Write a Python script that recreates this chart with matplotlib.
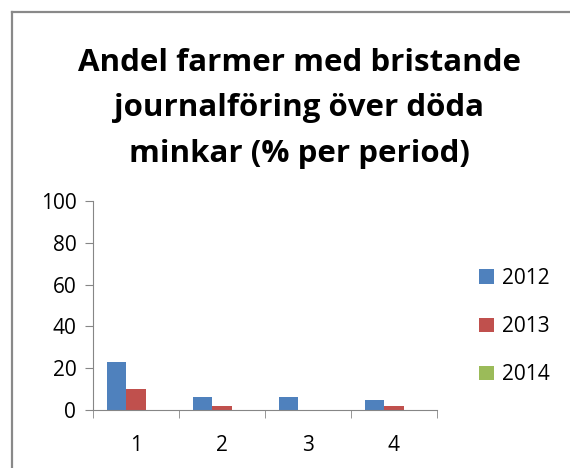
import matplotlib
matplotlib.use("Agg")
import matplotlib.pyplot as plt
from matplotlib.lines import Line2D
import numpy as np

categories = ["1", "2", "3", "4"]
series_names = ["2012", "2013", "2014"]
values_2012 = [23, 6, 6, 5]
values_2013 = [10, 2, 0, 2]
values_2014 = [0, 0, 0, 0]
colors = ["#4F81BD", "#C0504D", "#9BBB59"]
yticks = [0, 20, 40, 60, 80, 100]

plt.rcParams['font.family'] = ['Open Sans', 'DejaVu Sans']

W, H = 570, 468
fig = plt.figure(figsize=(W / 100, H / 100), dpi=100)
# outer border (only top and left edges visible in the crop)
bx, by = 11.5 / W, 1 - 11.5 / H
fig.add_artist(Line2D([bx, bx], [0, by], transform=fig.transFigure, color="#898989", linewidth=1.6))
fig.add_artist(Line2D([bx, 1], [by, by], transform=fig.transFigure, color="#898989", linewidth=1.6))

ax = fig.add_axes([93 / W, 1 - 410 / H, (437 - 93) / W, (410 - 201) / H])

x = np.arange(len(categories))
bw = 1 / 4.5
for i, (vals, name) in enumerate(zip([values_2012, values_2013, values_2014], series_names)):
    ax.bar(x - bw + i * bw, vals, width=bw, color=colors[i], label=name, zorder=2)

ax.set_xlim(-0.5, len(categories) - 0.5)
ax.set_ylim(0, 100)
ax.set_yticks(yticks)
ax.set_xticks(x)
ax.set_xticklabels(categories)
ax.set_xticks(np.arange(-0.5, len(categories)), minor=True)
ax.tick_params(axis='x', which='major', length=0, labelsize=15, pad=18)
ax.tick_params(axis='x', which='minor', length=6, color="#868686", direction='out')
ax.tick_params(axis='y', length=6, color="#868686", labelsize=15, direction='out', pad=6)
for s in ["top", "right"]:
    ax.spines[s].set_visible(False)
for s in ["left", "bottom"]:
    ax.spines[s].set_color("#868686")

fig.text(0.525, 1 - 169 / H, "Andel farmer med bristande\njournalföring över döda\nminkar (% per period)",
         ha="center", va="bottom", fontsize=22.5, fontweight="bold", linespacing=1.68)

leg = fig.legend(loc="upper left", bbox_to_anchor=(479 / W, 1 - 268 / H), frameon=False,
                 fontsize=15, handlelength=0.7, handleheight=0.7, handletextpad=0.4,
                 labelspacing=1.3, borderaxespad=0, borderpad=0)

fig.savefig("out.png", dpi=100)
